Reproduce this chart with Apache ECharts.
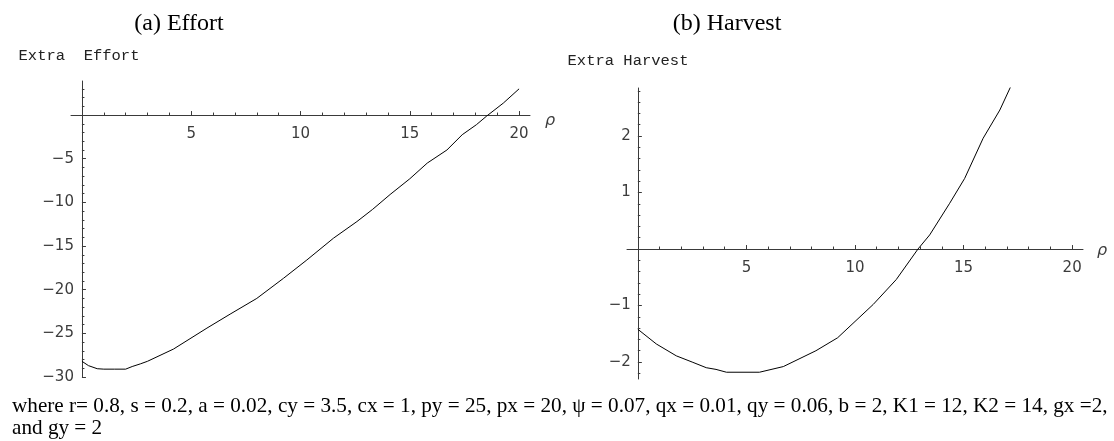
<!DOCTYPE html>
<html>
<head>
<meta charset="utf-8">
<script src="https://cdn.jsdelivr.net/npm/echarts@6/dist/echarts.min.js"></script>
<style>
  html, body { margin: 0; padding: 0; background: #fff; }
  #chart { width: 1114px; height: 441px; }
</style>
</head>
<body>
<div id="chart"></div>
<script>
// Extra effort against rho, panel (a)
const effortRho   = [0, 0.3, 0.7, 1.0, 1.5, 2.0, 2.3, 2.67, 3.0, 4.19, 5.72, 6.78, 8.0, 9.22, 10.29, 11.51, 12.58, 13.3, 14.1, 15.0, 15.8, 16.7, 17.4, 18.05, 18.5, 19.28, 20.0];
const effortValue = [-28.2, -28.7, -29.05, -29.1, -29.1, -29.1, -28.8, -28.5, -28.2, -26.8, -24.4, -22.8, -21.0, -18.7, -16.6, -14.1, -12.2, -10.8, -9.1, -7.3, -5.5, -4.0, -2.25, -1.1, -0.15, 1.37, 3.0];

// Extra harvest against rho, panel (b)
const harvestRho   = [0, 0.85, 1.77, 2.5, 3.15, 3.6, 4.08, 5.6, 6.7, 8.2, 9.2, 10.84, 11.9, 12.9, 13.44, 14.36, 15.05, 15.9, 16.67, 17.2];
const harvestValue = [-1.42, -1.68, -1.89, -2.0, -2.1, -2.13, -2.18, -2.18, -2.08, -1.8, -1.57, -0.98, -0.54, 0, 0.25, 0.81, 1.25, 1.96, 2.46, 2.9];

// Tick positions
const rhoMajor = [5, 10, 15, 20];
const rhoMinor = [1, 2, 3, 4, 6, 7, 8, 9, 11, 12, 13, 14, 16, 17, 18, 19];
const effortMajor = [-30, -25, -20, -15, -10, -5];
const effortMinor = [-29, -28, -27, -26, -24, -23, -22, -21, -19, -18, -17, -16, -14, -13, -12, -11, -9, -8, -7, -6, -4, -3, -2, -1, 1, 2, 3];
const harvestMajor = [-2, -1, 1, 2];
const harvestMinor = [-2.2, -1.8, -1.6, -1.4, -1.2, -0.8, -0.6, -0.4, -0.2, 0.2, 0.4, 0.6, 0.8, 1.2, 1.4, 1.6, 1.8, 2.2, 2.4, 2.6, 2.8];

const titles = ['(a) Effort', '(b) Harvest'];
const axisTitles = ['Extra  Effort', 'Extra Harvest'];
const rhoName = '\u03C1';
const captionLines = [
  'where r= 0.8, s = 0.2, a = 0.02, cy = 3.5, cx = 1, py = 25, px = 20, \u03C8 = 0.07, qx = 0.01, qy = 0.06, b = 2, K1 = 12, K2 = 14, gx =2,',
  'and gy = 2'
];

const AXIS_COLOR = '#3a3a3a';
const LABEL_COLOR = '#3c3c3c';
const LABEL_FONT = 'DejaVu Sans';

// Panel geometry and value ranges
const panels = [
  { grid: { left: 71, top: 81, width: 459, height: 296 }, xRange: [-0.5, 20.5], yRange: [-30, 3.9],
    yMajor: effortMajor, yMinor: effortMinor, yLabelGap: 8 },
  { grid: { left: 627, top: 88, width: 456, height: 291 }, xRange: [-0.5, 20.5], yRange: [-2.3, 2.85],
    yMajor: harvestMajor, yMinor: harvestMinor, yLabelGap: 7 }
];

const fmt = v => (v < 0 ? '\u2212' + Math.abs(v) : String(v));
const pairs = (xs, ys) => xs.map((x, i) => [x, ys[i]]);

// Axes cross at the origin: shift them inward from the grid edges
function crossOffsets(p) {
  const g = p.grid;
  const zeroFromBottom = g.height * (0 - p.yRange[0]) / (p.yRange[1] - p.yRange[0]);
  const zeroFromLeft = g.width * (0 - p.xRange[0]) / (p.xRange[1] - p.xRange[0]);
  return { x: -zeroFromBottom, y: -zeroFromLeft };
}

function tickAxis(kind, gridIndex, p, extra) {
  const off = crossOffsets(p);
  const isX = kind === 'x';
  const range = isX ? p.xRange : p.yRange;
  return Object.assign({
    type: 'value', gridIndex, min: range[0], max: range[1],
    position: isX ? 'bottom' : 'left',
    offset: isX ? off.x : off.y,
    splitLine: { show: false },
    axisLine: { onZero: false, lineStyle: { color: AXIS_COLOR, width: 1 } }
  }, extra);
}

const xAxis = [];
const yAxis = [];
panels.forEach((p, i) => {
  xAxis.push(tickAxis('x', i, p, {
    axisTick: { show: true, inside: true, length: 4, customValues: rhoMajor, lineStyle: { color: AXIS_COLOR } },
    axisLabel: { show: true, customValues: rhoMajor, margin: 12, fontFamily: LABEL_FONT, fontSize: 15, color: LABEL_COLOR, formatter: fmt }
  }));
  xAxis.push(tickAxis('x', i, p, {
    axisLine: { show: false, onZero: false },
    axisTick: { show: true, inside: true, length: 2.5, customValues: rhoMinor, lineStyle: { color: AXIS_COLOR } },
    axisLabel: { show: false }
  }));
  yAxis.push(tickAxis('y', i, p, {
    axisTick: { show: true, inside: true, length: 4, customValues: p.yMajor, lineStyle: { color: AXIS_COLOR } },
    axisLabel: { show: true, customValues: p.yMajor, margin: p.yLabelGap, fontFamily: LABEL_FONT, fontSize: 15, color: LABEL_COLOR, formatter: fmt }
  }));
  yAxis.push(tickAxis('y', i, p, {
    axisLine: { show: false, onZero: false },
    axisTick: { show: true, inside: true, length: 2.5, customValues: p.yMinor, lineStyle: { color: AXIS_COLOR } },
    axisLabel: { show: false }
  }));
});

const curveStyle = { color: '#000', width: 1 };
const serif = '"Liberation Serif", "Times New Roman", serif';

function text(x, y, str, font, fill, align, extra) {
  return Object.assign({ type: 'text', x, y, silent: true,
    style: { text: str, font, fill, align, verticalAlign: 'middle' } }, extra || {});
}

const rhoFont = 'italic 16px "' + LABEL_FONT + '"';

const option = {
  animation: false,
  backgroundColor: '#fff',
  grid: panels.map(p => p.grid),
  xAxis,
  yAxis,
  series: [
    { type: 'line', xAxisIndex: 0, yAxisIndex: 0, data: pairs(effortRho, effortValue),
      showSymbol: false, clip: true, lineStyle: curveStyle, silent: true },
    { type: 'line', xAxisIndex: 2, yAxisIndex: 2, data: pairs(harvestRho, harvestValue),
      showSymbol: false, clip: true, lineStyle: curveStyle, silent: true }
  ],
  graphic: [
    text(179, 24, titles[0], '24px ' + serif, '#000', 'center'),
    text(727, 24, titles[1], '24px ' + serif, '#000', 'center'),
    text(79, 56, axisTitles[0], '15.5px "Liberation Mono"', '#222', 'center'),
    text(628, 61, axisTitles[1], '15.5px "Liberation Mono"', '#222', 'center'),
    text(545, 121, rhoName, rhoFont, LABEL_COLOR, 'left'),
    text(1097, 251, rhoName, rhoFont, LABEL_COLOR, 'left'),
    text(12, 406, captionLines[0], '22px ' + serif, '#000', 'left', { scaleX: 0.963 }),
    text(12, 428, captionLines[1], '22px ' + serif, '#000', 'left', { scaleX: 0.963 })
  ]
};

const chart = echarts.init(document.getElementById('chart'), null, { renderer: 'canvas' });
chart.setOption(option);
</script>
</body>
</html>
